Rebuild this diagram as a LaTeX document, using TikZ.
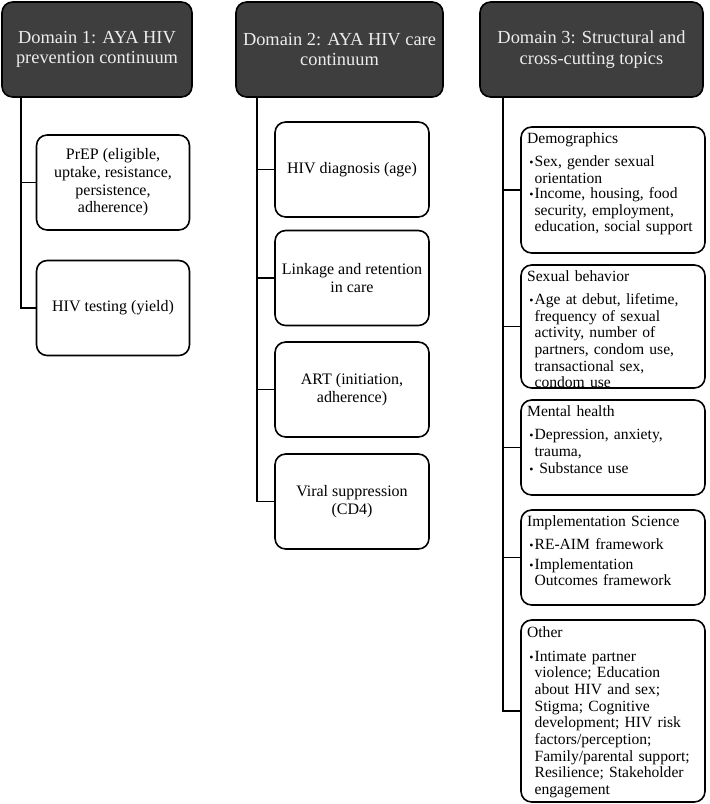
\documentclass[tikz,border=0pt]{standalone}
\usepackage{fontspec}
\setmainfont{Liberation Serif}
\usepackage{tikz}
\usetikzlibrary{positioning}
\definecolor{hdrgray}{HTML}{3E3E3E}
\definecolor{hdrtext}{HTML}{EDEDED}
\newcommand{\topichead}[1]{#1\par\vspace{2.8pt}}
\newcommand{\bitem}[1]{\par\vspace{2.2pt}\noindent\hspace*{1.6pt}\makebox[4pt][l]{\small\textbullet}\parbox[t]{126pt}{\raggedright #1}}
\tikzset{
    domainbox/.style={rectangle, draw=black, fill=hdrgray, text=hdrtext, rounded corners=8pt, line width=1.2pt, align=center, inner sep=0pt, minimum height=71.25pt, font=\fontsize{13.8}{15.2}\selectfont},
    itembox/.style={rectangle, draw=black, fill=white, rounded corners=8pt, line width=1.2pt, align=center, inner sep=0pt, minimum height=71.25pt, font=\fontsize{12}{13.2}\selectfont},
    topicbox/.style={rectangle, draw=black, fill=white, rounded corners=8pt, line width=1.2pt, minimum width=138pt, inner sep=0pt},
    topictext/.style={align=left, text width=132pt, inner sep=0pt, font=\fontsize{11.7}{12.5}\selectfont},
    trunk/.style={line width=1.4pt}
}
\begin{document}
\begin{tikzpicture}[x=0.75pt, y=-0.75pt]
  \useasboundingbox (0,0) rectangle (710,804);
  \coordinate (t1) at (21,97);
  \coordinate (t2) at (257,97);
  \coordinate (t3) at (503,97);
  \draw[trunk] (t1) |- (113,182.5);
  \draw[trunk] (t1) |- (113,308);
  \draw[trunk] (t2) |- (352,169.5);
  \draw[trunk] (t2) |- (352,278);
  \draw[trunk] (t2) |- (352,389.5);
  \draw[trunk] (t2) |- (352,501.5);
  \draw[trunk] (t3) |- (613,190);
  \draw[trunk] (t3) |- (613,326.5);
  \draw[trunk] (t3) |- (613,447.5);
  \draw[trunk] (t3) |- (613,557.5);
  \draw[trunk] (t3) |- (613,711);
  \node[domainbox, minimum width=142.5pt] (h1) at (97,49.5) {Domain 1: AYA HIV\\prevention continuum};
  \node[domainbox, minimum width=155.25pt] (h2) at (339.5,49.5) {Domain 2: AYA HIV care\\continuum};
  \node[domainbox, minimum width=167.25pt] (h3) at (591.5,49.5) {Domain 3: Structural and\\cross-cutting topics};
  \node[itembox, minimum width=114.75pt] (prep) at (113,182.5) {PrEP (eligible,\\uptake, resistance,\\persistence,\\adherence)};
  \node[itembox, minimum width=114.75pt] (hivt) at (113,308) {HIV testing (yield)};
  \node[itembox, minimum width=115.5pt] (diag) at (352,169.5) {HIV diagnosis (age)};
  \node[itembox, minimum width=115.5pt] (link) at (352,278) {Linkage and retention\\in care};
  \node[itembox, minimum width=115.5pt] (art) at (352,389.5) {ART (initiation,\\adherence)};
  \node[itembox, minimum width=115.5pt] (vs) at (352,501.5) {Viral suppression\\(CD4)};
  \node[topicbox, minimum height=94.5pt] (demo) at (613,190) {};
  \node[topicbox, minimum height=92.25pt] (sexb) at (613,326.5) {};
  \node[topicbox, minimum height=71.25pt] (ment) at (613,447.5) {};
  \node[topicbox, minimum height=71.25pt] (impl) at (613,557.5) {};
  \node[topicbox, minimum height=136.5pt] (other) at (613,711) {};
  \node[topictext, below right=4.4pt and 5pt of demo.north west] (demotxt) {\topichead{Demographics}\bitem{Sex, gender sexual\\orientation}\bitem{Income, housing, food\\security, employment,\\education, social support}};
  \node[topictext, below right=4.4pt and 5pt of sexb.north west] (sexbtxt) {\topichead{Sexual behavior}\bitem{Age at debut, lifetime,\\frequency of sexual\\activity, number of\\partners, condom use,\\transactional sex,\\condom use}};
  \node[topictext, below right=4.4pt and 5pt of ment.north west] (menttxt) {\topichead{Mental health}\bitem{Depression, anxiety,\\trauma,}\bitem{\hspace*{3.5pt}Substance use}};
  \node[topictext, below right=4.4pt and 5pt of impl.north west] (impltxt) {\topichead{Implementation Science}\bitem{RE-AIM framework}\bitem{Implementation\\Outcomes framework}};
  \node[topictext, below right=5.6pt and 5pt of other.north west] (othertxt) {\topichead{Other}\bitem{Intimate partner\\violence; Education\\about HIV and sex;\\Stigma; Cognitive\\development; HIV risk\\factors/perception;\\Family/parental support;\\Resilience; Stakeholder\\engagement}};
\end{tikzpicture}
\end{document}
